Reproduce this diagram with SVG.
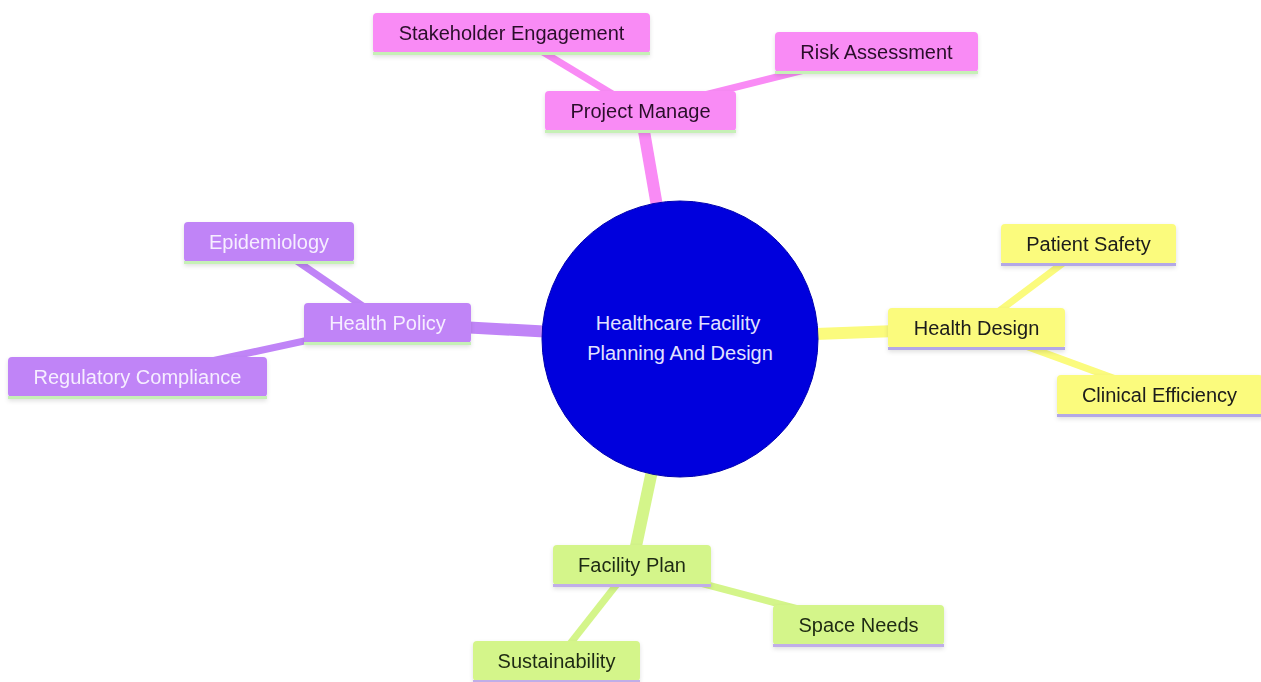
<svg xmlns="http://www.w3.org/2000/svg" width="1261" height="682" viewBox="0 0 1261 682">
<style>
text{font-family:"Liberation Sans",Arial,sans-serif;font-size:20px;text-anchor:middle}
.e{fill:none;stroke-linecap:butt}
.main{stroke-width:12}
.sub{stroke-width:7}
.pk{stroke:#f98bf5}
.pu{stroke:#c084f7}
.ye{stroke:#fbfb7d}
.gr{stroke:#d4f58a}
.npk rect{fill:#f98bf5}
.npk text{fill:#2a102a}
.npk line{stroke:#c6f0b6}
.npu rect{fill:#c084f7}
.npu text{fill:#f6eeff}
.npu line{stroke:#c6f0b6}
.nye rect{fill:#fbfb7d}
.nye text{fill:#1a1a1a}
.nye line{stroke:#b3a8e6}
.ngr rect{fill:#d4f58a}
.ngr text{fill:#1f2a12}
.ngr line{stroke:#c0aee8}
line.b{stroke-width:3}
</style>
<defs>
<filter id="sh" x="-10%" y="-20%" width="120%" height="150%">
<feDropShadow dx="0" dy="2" stdDeviation="2" flood-color="#000" flood-opacity="0.12"/>
</filter>
</defs>
<rect width="1261" height="682" fill="#ffffff"/>
<g id="connectors">
<line class="e main pk" x1="680" y1="339" x2="640.5" y2="111"/>
<line class="e sub pk" x1="640.5" y1="111" x2="511.5" y2="33"/>
<line class="e sub pk" x1="640.5" y1="111" x2="876.5" y2="52"/>
<line class="e main pu" x1="680" y1="339" x2="387.5" y2="323"/>
<line class="e sub pu" x1="387.5" y1="323" x2="269" y2="242"/>
<line class="e sub pu" x1="387.5" y1="323" x2="137.5" y2="377"/>
<line class="e main ye" x1="680" y1="339" x2="976.5" y2="328"/>
<line class="e sub ye" x1="976.5" y1="328" x2="1088.5" y2="244"/>
<line class="e sub ye" x1="976.5" y1="328" x2="1159.5" y2="395"/>
<line class="e main gr" x1="680" y1="339" x2="632" y2="565"/>
<line class="e sub gr" x1="632" y1="565" x2="858.5" y2="625"/>
<line class="e sub gr" x1="632" y1="565" x2="556.5" y2="661"/>
</g>
<g id="root">
<circle cx="680" cy="339" r="138" fill="#0000dd" stroke="#0000b0" stroke-width="1"/>
<text x="678" y="330" fill="#e2e2ff">Healthcare Facility</text>
<text x="680" y="360" fill="#e2e2ff">Planning And Design</text>
</g>
<g id="project-manage" class="npk" filter="url(#sh)">
<rect x="545" y="91" width="191" height="40" rx="4"/>
<line class="b" x1="545" y1="131.5" x2="736" y2="131.5"/>
<text x="640.5" y="118">Project Manage</text>
</g>
<g id="stakeholder-engagement" class="npk" filter="url(#sh)">
<rect x="373" y="13" width="277" height="40" rx="4"/>
<line class="b" x1="373" y1="53.5" x2="650" y2="53.5"/>
<text x="511.5" y="40">Stakeholder Engagement</text>
</g>
<g id="risk-assessment" class="npk" filter="url(#sh)">
<rect x="775" y="32" width="203" height="40" rx="4"/>
<line class="b" x1="775" y1="72.5" x2="978" y2="72.5"/>
<text x="876.5" y="59">Risk Assessment</text>
</g>
<g id="health-policy" class="npu" filter="url(#sh)">
<rect x="304" y="303" width="167" height="40" rx="4"/>
<line class="b" x1="304" y1="343.5" x2="471" y2="343.5"/>
<text x="387.5" y="330">Health Policy</text>
</g>
<g id="epidemiology" class="npu" filter="url(#sh)">
<rect x="184" y="222" width="170" height="40" rx="4"/>
<line class="b" x1="184" y1="262.5" x2="354" y2="262.5"/>
<text x="269" y="249">Epidemiology</text>
</g>
<g id="regulatory-compliance" class="npu" filter="url(#sh)">
<rect x="8" y="357" width="259" height="40" rx="4"/>
<line class="b" x1="8" y1="397.5" x2="267" y2="397.5"/>
<text x="137.5" y="384">Regulatory Compliance</text>
</g>
<g id="health-design" class="nye" filter="url(#sh)">
<rect x="888" y="308" width="177" height="40" rx="4"/>
<line class="b" x1="888" y1="348.5" x2="1065" y2="348.5"/>
<text x="976.5" y="335">Health Design</text>
</g>
<g id="patient-safety" class="nye" filter="url(#sh)">
<rect x="1001" y="224" width="175" height="40" rx="4"/>
<line class="b" x1="1001" y1="264.5" x2="1176" y2="264.5"/>
<text x="1088.5" y="251">Patient Safety</text>
</g>
<g id="clinical-efficiency" class="nye" filter="url(#sh)">
<rect x="1057" y="375" width="206" height="40" rx="4"/>
<line class="b" x1="1057" y1="415.5" x2="1263" y2="415.5"/>
<text x="1159.5" y="402">Clinical Efficiency</text>
</g>
<g id="facility-plan" class="ngr" filter="url(#sh)">
<rect x="553" y="545" width="158" height="40" rx="4"/>
<line class="b" x1="553" y1="585.5" x2="711" y2="585.5"/>
<text x="632" y="572">Facility Plan</text>
</g>
<g id="space-needs" class="ngr" filter="url(#sh)">
<rect x="773" y="605" width="171" height="40" rx="4"/>
<line class="b" x1="773" y1="645.5" x2="944" y2="645.5"/>
<text x="858.5" y="632">Space Needs</text>
</g>
<g id="sustainability" class="ngr" filter="url(#sh)">
<rect x="473" y="641" width="167" height="40" rx="4"/>
<line class="b" x1="473" y1="681.5" x2="640" y2="681.5"/>
<text x="556.5" y="668">Sustainability</text>
</g>
</svg>
